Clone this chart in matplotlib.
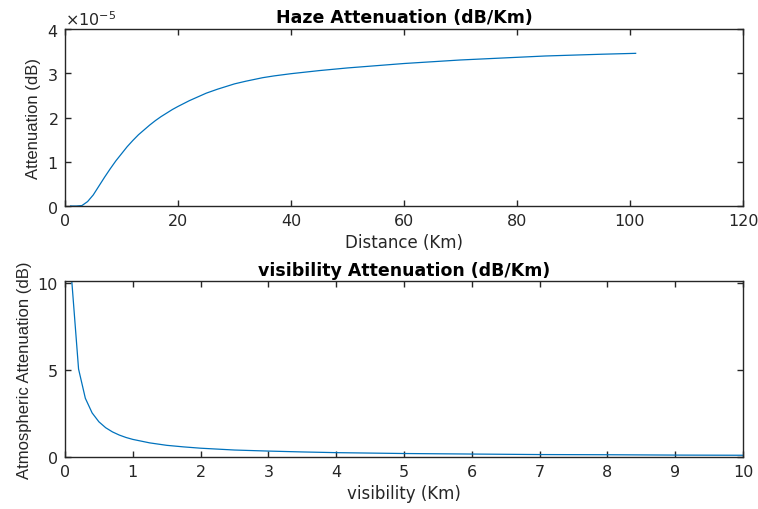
import matplotlib
matplotlib.use("Agg")
import matplotlib.pyplot as plt
from matplotlib.ticker import ScalarFormatter

# Top plot: haze attenuation vs distance
distance_km = [1, 2, 3, 4, 5, 6, 7, 8, 9, 10, 11, 12, 13, 14, 15, 16, 17, 18,
               19, 20, 22, 25, 27, 30, 32, 35, 37, 40, 45, 50, 55, 60, 65, 70,
               75, 80, 85, 90, 95, 101]
haze_atten = [0.0, 0.0, 0.01e-5, 0.10e-5, 0.25e-5, 0.45e-5, 0.65e-5, 0.84e-5,
              1.02e-5, 1.18e-5, 1.34e-5, 1.48e-5, 1.61e-5, 1.72e-5, 1.83e-5,
              1.93e-5, 2.02e-5, 2.10e-5, 2.18e-5, 2.25e-5, 2.38e-5, 2.55e-5,
              2.64e-5, 2.76e-5, 2.82e-5, 2.90e-5, 2.94e-5, 2.99e-5, 3.06e-5,
              3.12e-5, 3.17e-5, 3.22e-5, 3.26e-5, 3.30e-5, 3.33e-5, 3.36e-5,
              3.39e-5, 3.41e-5, 3.43e-5, 3.45e-5]

# Bottom plot: atmospheric attenuation vs visibility
visibility_km = [0.1, 0.2, 0.3, 0.4, 0.5, 0.6, 0.7, 0.8, 0.9, 1.0, 1.25, 1.5,
                 1.75, 2.0, 2.5, 3.0, 3.5, 4.0, 5.0, 6.0, 7.0, 8.0, 9.0, 10.0]
vis_atten = [10.1, 5.05, 3.37, 2.53, 2.02, 1.68, 1.44, 1.26, 1.12, 1.01, 0.81,
             0.67, 0.58, 0.505, 0.40, 0.34, 0.29, 0.25, 0.20, 0.17, 0.14, 0.13,
             0.11, 0.10]

top_xticks = [0, 20, 40, 60, 80, 100, 120]
top_yticks = [0, 1e-5, 2e-5, 3e-5, 4e-5]
bot_xticks = [0, 1, 2, 3, 4, 5, 6, 7, 8, 9, 10]
bot_yticks = [0, 5, 10]

plt.rcParams['font.family'] = ['DejaVu Sans']
line_color = '#0072BD'
axis_color = '#262626'
vfont = ['Liberation Sans', 'DejaVu Sans']

fig = plt.figure(figsize=(7.58, 5.10), dpi=100)
ax1 = fig.add_axes([65/758, (510-207)/510, 678/758, 177/510])
ax2 = fig.add_axes([65/758, (510-458)/510, 678/758, 176/510])

def style(ax):
    for s in ax.spines.values():
        s.set_color(axis_color)
        s.set_linewidth(1.0)
    ax.tick_params(direction='in', top=True, right=True, length=4,
                   width=1.0, colors=axis_color, labelsize=11.5, pad=5)
    for lab in ax.get_xticklabels() + ax.get_yticklabels():
        lab.set_color(axis_color)

ax1.plot(distance_km, haze_atten, color=line_color, linewidth=0.9)
ax1.set_xlim(0, 120)
ax1.set_ylim(0, 4e-5)
ax1.set_xticks(top_xticks)
ax1.set_yticks(top_yticks)
fmt = ScalarFormatter(useMathText=True)
fmt.set_powerlimits((0, 0))
ax1.yaxis.set_major_formatter(fmt)
style(ax1)
ax1.yaxis.get_offset_text().set_fontsize(11.5)
ax1.yaxis.get_offset_text().set_color(axis_color)
ax1.set_title('Haze Attenuation (dB/Km)', fontsize=12.5, fontweight='bold', pad=5)
ax1.set_xlabel('Distance (Km)', fontsize=12, color=axis_color, labelpad=4)
ax1.set_ylabel('Attenuation (dB)', fontsize=12, color=axis_color, labelpad=4,
               family=vfont)

ax2.plot(visibility_km, vis_atten, color=line_color, linewidth=0.9)
ax2.set_xlim(0, 10)
ax2.set_ylim(0, max(vis_atten))
ax2.set_xticks(bot_xticks)
ax2.set_yticks(bot_yticks)
style(ax2)
ax2.set_title('visibility Attenuation (dB/Km)', fontsize=12.5, fontweight='bold', pad=4)
ax2.set_xlabel('visibility (Km)', fontsize=12, color=axis_color, labelpad=4)
ax2.set_ylabel('Atmospheric Attenuation (dB)', fontsize=12, color=axis_color,
               labelpad=4, family=vfont)

fig.savefig('out.png', dpi=100)
